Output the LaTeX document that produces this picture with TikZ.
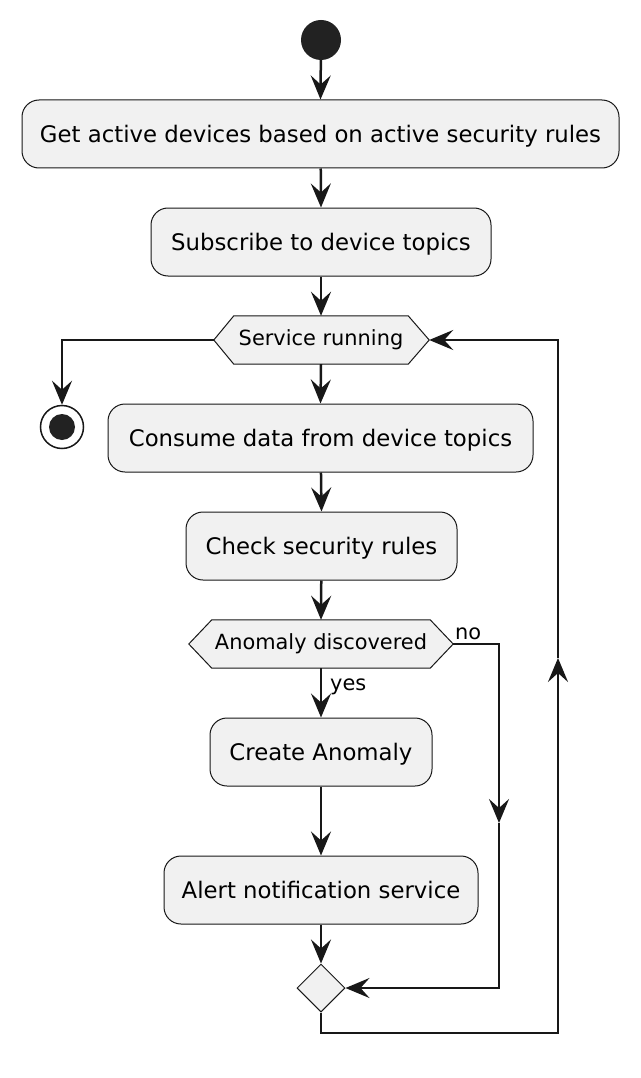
\documentclass[tikz,border=0pt]{standalone}
\usepackage{fontspec}
\setmainfont{DejaVu Sans}
\usetikzlibrary{arrows.meta,shapes.geometric,backgrounds}
\definecolor{boxfill}{HTML}{F1F1F1}
\definecolor{ink}{HTML}{181818}
\definecolor{dot}{HTML}{222222}
\tikzset{
  act/.style={draw=ink, fill=boxfill, line width=1pt, rounded corners=17pt, inner sep=0pt, minimum height=68pt, text depth=0pt, font=\fontsize{22.8}{27}\selectfont, text=black},
  hexnode/.style={inner sep=0pt, minimum height=48pt, font=\fontsize{20.9}{25}\selectfont, text=black},
  hexline/.style={draw=ink, fill=boxfill, line width=1pt},
  flow/.style={draw=ink, line width=2.5pt},
  arr/.style={flow, -{Stealth[length=24pt,width=20pt,inset=9pt]}},
  lbl/.style={font=\fontsize{20.9}{25}\selectfont, inner sep=0pt, text=black},
}
\begin{document}
\begin{tikzpicture}[x=1pt,y=1pt]
\useasboundingbox (0,0) rectangle (640,-1078);

% nodes
\node[circle, fill=dot, minimum size=40pt, inner sep=0pt] (start) at (321,-40) {};
\node[act, minimum width=597pt] (a1) at (320.5,-134) {Get active devices based on active security rules};
\node[act, minimum width=340pt] (a2) at (321,-242) {Subscribe to device topics};
\node[hexnode, minimum width=174pt] (h1) at (321,-340) {Service running};
\coordinate (h1l) at ([xshift=-20pt]h1.west);
\coordinate (h1r) at ([xshift=21pt]h1.east);
\node[circle, draw=ink, line width=1.5pt, fill=white, minimum size=43pt, inner sep=0pt] (stop) at (62,-427) {};
\node[circle, fill=dot, minimum size=26pt, inner sep=0pt] (stopdot) at (stop.center) {};
\node[act, minimum width=425pt] (a3) at (320.5,-438) {Consume data from device topics};
\node[act, minimum width=271pt] (a4) at (321.5,-546) {Check security rules};
\node[hexnode, minimum width=218pt] (h2) at (321,-644) {Anomaly discovered};
\coordinate (h2l) at ([xshift=-23pt]h2.west);
\coordinate (h2r) at ([xshift=23pt]h2.east);
\node[act, minimum width=222pt] (a5) at (321,-752) {Create Anomaly};
\node[act, minimum width=314pt] (a6) at (321,-890) {Alert notification service};
\node[diamond, draw=ink, fill=boxfill, line width=1pt, minimum size=48pt, inner sep=0pt, aspect=1] (merge) at (321,-988) {};

% background and hexagon outlines
\begin{scope}[on background layer]
\fill[white] (0,0) rectangle (640,-1078);
\draw[hexline] (h1.north west) -- (h1.north east) -- (h1r) -- (h1.south east) -- (h1.south west) -- (h1l) -- cycle;
\draw[hexline] (h2.north west) -- (h2.north east) -- (h2r) -- (h2.south east) -- (h2.south west) -- (h2l) -- cycle;
\end{scope}

% labels
\node[lbl, anchor=base west] (lno) at (455,-639) {no};
\node[lbl, anchor=base west] (lyes) at (330,-690) {yes};

% helper coordinates
\coordinate (stopc) at (62,-340);
\coordinate (noA) at (499,-644);
\coordinate (noB) at (499,-823);
\coordinate (noC) at (499,-988);
\coordinate (lpA) at (321,-1033);
\coordinate (lpB) at (558,-1033);
\coordinate (lpC) at (558,-658);
\coordinate (lpD) at (558,-340);

% connectors
\draw[arr] (start) -- (a1.north);
\draw[arr] (a1) -- (a2.north);
\draw[arr] (a2) -- (h1.north);
\draw[arr] (h1l) -- (stopc) -- (stop.north);
\draw[arr] (h1.south) -- (a3.north);
\draw[arr] (a3) -- (a4.north);
\draw[arr] (a4) -- (h2.north);
\draw[arr] (h2.south) -- (a5.north);
\draw[arr] (a5) -- (a6.north);
\draw[arr] (a6) -- (merge.north);
\draw[arr] (h2r) -- (noA) -- (noB);
\draw[arr] (noB) -- (noC) -- (merge.east);
\draw[arr] (merge.south) -- (lpA) -- (lpB) -- (lpC);
\draw[arr] (lpC) -- (lpD) -- (h1r);
\end{tikzpicture}
\end{document}
